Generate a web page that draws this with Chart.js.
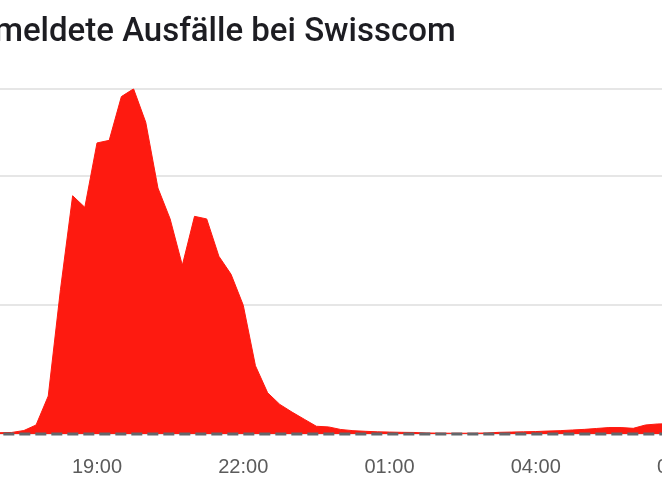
<!DOCTYPE html>
<html>
<head>
<meta charset="utf-8">
<script src="https://cdn.jsdelivr.net/npm/chart.js@4.4.1/dist/chart.umd.min.js"></script>
<style>
  html, body { margin: 0; padding: 0; background: #ffffff; overflow: hidden; width: 662px; height: 497px; }
  #wrap { position: absolute; left: -46px; top: 0; width: 788px; height: 497px; }
</style>
</head>
<body>
<div id="wrap"><canvas id="c"></canvas></div>
<script>
// ---- data ----
const titleText = 'Gemeldete Ausfälle bei Swisscom';
const times = [
  '16:45','17:00','17:15','17:30','17:45','18:00','18:15','18:30','18:45',
  '19:00','19:15','19:30','19:45','20:00','20:15','20:30','20:45',
  '21:00','21:15','21:30','21:45','22:00','22:15','22:30','22:45',
  '23:00','23:15','23:30','23:45','00:00','00:15','00:30','00:45',
  '01:00','01:15','01:30','01:45','02:00','02:15','02:30','02:45',
  '03:00','03:15','03:30','03:45','04:00','04:15','04:30','04:45',
  '05:00','05:15','05:30','05:45','06:00','06:15','06:30','06:45','07:00'
];
const reports = [
  1, 1, 1.2, 2.7, 7, 29.5, 112, 185, 176,
  226, 228, 262, 268, 242, 191, 167, 131,
  169, 167, 138, 124, 100, 53, 32, 23,
  17, 11.5, 6, 5.5, 3.5, 2.6, 2.1, 1.7,
  1.5, 1.3, 1.2, 0.8, 0.7, 0.6, 0.6, 0.6,
  0.8, 1.3, 1.5, 1.7, 1.9, 2.3, 2.6, 3.1,
  3.6, 4.3, 5, 5, 4.4, 7, 7.8, 8, 8
];
const baselineTimes = ['16:45', '07:00'];
const baselineValues = [0, 0];
const tickLabels = ['19:00', '22:00', '01:00', '04:00', '07:00'];
const yGridValues = [0, 100, 200];
const yMax = 268.2;

// ---- helpers ----
// minutes relative to 19:00, rolling over midnight
function toMin(s) {
  const [h, m] = s.split(':').map(Number);
  let v = (h * 60 + m) - 19 * 60;
  if (v < -300) v += 24 * 60;
  return v;
}

// geometry (window pixels)
const offsetLeft = 46;
const canvasW = 788;
const px19 = 97, px07 = 682;
const ppm = (px07 - px19) / 720;
const xMin = (-offsetLeft - px19) / ppm;
const xMax = (canvasW - offsetLeft - px19) / ppm;

const red = '#fe1a10';

new Chart(document.getElementById('c'), {
  type: 'line',
  data: {
    datasets: [
      {
        label: 'Baseline',
        data: baselineTimes.map((t, i) => ({ x: toMin(t), y: baselineValues[i] })),
        borderColor: '#63676b',
        borderWidth: 3,
        borderDash: [11, 5],
        pointRadius: 0,
        fill: false,
        clip: 4
      },
      {
        label: 'Meldungen',
        data: times.map((t, i) => ({ x: toMin(t), y: reports[i] })),
        borderColor: red,
        backgroundColor: red,
        borderWidth: 1,
        pointRadius: 0,
        tension: 0,
        fill: 'origin'
      }
    ]
  },
  options: {
    responsive: true,
    maintainAspectRatio: false,
    animation: false,
    devicePixelRatio: 1,
    layout: { padding: { left: 0, right: 0, top: 0, bottom: 5 } },
    plugins: {
      legend: { display: false },
      tooltip: { enabled: false },
      title: {
        display: true,
        text: titleText,
        align: 'start',
        color: '#1d1d22',
        font: { family: 'Roboto', size: 33, weight: '500' },
        padding: { top: 13, bottom: 36 }
      }
    },
    scales: {
      x: {
        type: 'linear',
        min: xMin,
        max: xMax,
        grid: { display: false },
        border: { display: false },
        afterBuildTicks: (scale) => {
          scale.ticks = tickLabels.map(l => ({ value: toMin(l) }));
        },
        ticks: {
          autoSkip: false,
          maxRotation: 0,
          padding: 13,
          color: '#5b5b5b',
          font: { family: 'Liberation Sans', size: 20 },
          callback: (v) => {
            const i = tickLabels.findIndex(l => toMin(l) === v);
            return i >= 0 ? tickLabels[i] : '';
          }
        }
      },
      y: {
        min: 0,
        max: yMax,
        afterBuildTicks: (scale) => {
          scale.ticks = yGridValues.concat([yMax]).map(v => ({ value: v }));
        },
        ticks: { display: false },
        border: { display: false },
        grid: { color: '#e6e6e6', lineWidth: 2, drawTicks: false }
      }
    }
  }
});
</script>
</body>
</html>
